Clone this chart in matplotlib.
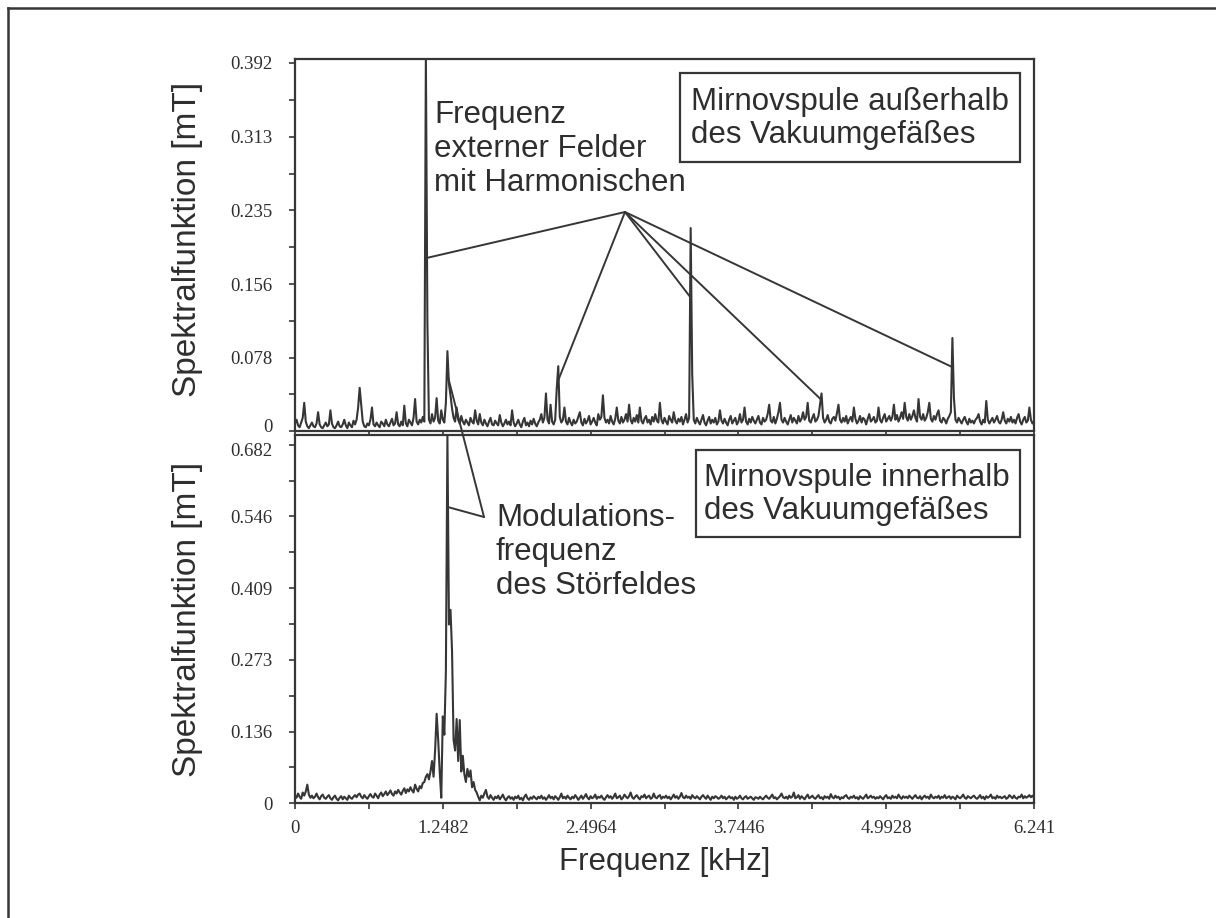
import numpy as np
import matplotlib
matplotlib.use("Agg")
import matplotlib.pyplot as plt
import matplotlib.transforms as mtransforms
from matplotlib.lines import Line2D
from matplotlib.patches import Rectangle

# ---- data -------------------------------------------------------------
# spectral amplitude in microtesla, 481 equally spaced bins from 0 to 6.241 kHz
f_max_khz = 6.241
n_bins = 481

# Mirnov coil outside the vacuum vessel
outer_uT = [
    8, 12, 6, 4, 9, 14, 30, 10, 5, 3, 6, 9, 5, 4, 8, 20, 7, 4, 3, 6,
    9, 5, 7, 22, 8, 4, 3, 6, 10, 5, 4, 7, 12, 6, 3, 9, 6, 4, 11, 7,
    12, 25, 46, 28, 10, 5, 4, 8, 6, 12, 25, 7, 5, 9, 6, 4, 10, 8, 5, 12,
    7, 5, 9, 13, 6, 8, 20, 7, 5, 10, 6, 27, 8, 5, 12, 9, 6, 14, 34, 10,
    7, 12, 9, 15, 10, 400, 115, 12, 8, 18, 10, 14, 35, 11, 8, 22, 12, 9, 30, 85,
    50, 38, 24, 14, 10, 25, 12, 8, 16, 10, 7, 12, 9, 6, 14, 10, 8, 22, 11, 7,
    18, 9, 6, 12, 8, 5, 10, 14, 7, 6, 11, 8, 6, 17, 9, 5, 8, 12, 7, 10,
    6, 22, 9, 5, 8, 12, 7, 4, 10, 14, 6, 9, 5, 11, 7, 13, 8, 5, 9, 12,
    18, 9, 14, 40, 12, 8, 28, 10, 7, 12, 45, 69, 15, 9, 12, 25, 10, 7, 14, 9,
    6, 12, 8, 10, 15, 20, 9, 6, 13, 8, 11, 16, 7, 10, 14, 9, 6, 18, 12, 15,
    38, 14, 9, 12, 8, 16, 10, 7, 13, 25, 11, 8, 15, 9, 12, 18, 10, 28, 12, 8,
    14, 10, 17, 9, 25, 11, 8, 13, 16, 9, 12, 7, 15, 10, 18, 11, 9, 30, 12, 8,
    14, 10, 7, 16, 12, 9, 20, 11, 8, 13, 10, 15, 7, 12, 18, 9, 14, 216, 60, 12,
    8, 14, 10, 7, 12, 17, 9, 6, 11, 15, 8, 12, 9, 14, 7, 10, 22, 11, 8, 13,
    9, 6, 12, 16, 8, 11, 14, 7, 10, 18, 9, 12, 25, 10, 7, 13, 9, 15, 11, 8,
    12, 16, 9, 7, 14, 10, 12, 18, 28, 11, 9, 15, 8, 13, 20, 30, 12, 9, 14, 10,
    7, 12, 17, 9, 14, 11, 8, 16, 10, 13, 20, 12, 15, 30, 11, 9, 14, 18, 10, 12,
    16, 28, 40, 14, 9, 12, 17, 10, 8, 13, 15, 11, 19, 28, 12, 9, 14, 10, 16, 8,
    12, 15, 10, 25, 13, 8, 11, 16, 9, 14, 12, 7, 13, 18, 10, 12, 15, 9, 11, 25,
    12, 9, 14, 18, 10, 13, 16, 11, 15, 28, 12, 17, 10, 14, 20, 13, 30, 15, 11, 18,
    12, 16, 22, 14, 10, 34, 15, 12, 18, 11, 14, 20, 30, 13, 10, 16, 12, 18, 22, 11,
    9, 14, 12, 8, 13, 16, 20, 99, 35, 12, 9, 14, 11, 8, 12, 15, 10, 7, 13, 9,
    11, 8, 12, 14, 18, 10, 7, 12, 9, 32, 12, 8, 11, 14, 9, 12, 16, 10, 8, 12,
    20, 11, 8, 13, 10, 15, 9, 12, 8, 14, 18, 10, 7, 12, 15, 9, 11, 25, 12, 8,
    10,
]

# Mirnov coil inside the vacuum vessel
inner_uT = [
    15, 10, 18, 12, 8, 20, 14, 22, 35, 16, 10, 14, 9, 12, 18, 11, 7, 13, 16, 10,
    8, 12, 15, 9, 6, 11, 14, 8, 5, 10, 13, 7, 12, 9, 6, 14, 10, 8, 12, 15,
    11, 16, 18, 12, 9, 15, 11, 8, 13, 17, 12, 10, 18, 14, 9, 16, 20, 13, 17, 22,
    15, 19, 24, 17, 14, 22, 18, 25, 20, 16, 23, 28, 19, 26, 22, 30, 24, 20, 35, 27,
    22, 32, 28, 38, 40, 50, 55, 45, 60, 80, 50, 100, 170, 120, 60, 10, 165, 130, 250, 700,
    340, 368, 290, 120, 100, 160, 80, 158, 60, 90, 55, 40, 65, 50, 62, 30, 40, 25, 20, 12,
    5, 14, 10, 18, 25, 12, 8, 15, 10, 6, 12, 9, 14, 7, 11, 16, 9, 5, 10, 13,
    8, 11, 6, 12, 9, 14, 7, 10, 5, 12, 16, 9, 6, 11, 8, 13, 10, 7, 12, 9,
    14, 8, 11, 6, 10, 15, 9, 12, 7, 13, 10, 6, 11, 18, 9, 12, 8, 14, 10, 7,
    12, 9, 15, 11, 6, 10, 14, 8, 12, 17, 10, 7, 13, 9, 11, 16, 8, 12, 10, 14,
    9, 6, 11, 15, 10, 13, 8, 12, 18, 9, 11, 14, 7, 10, 16, 12, 9, 13, 20, 11,
    8, 12, 15, 10, 7, 13, 11, 16, 9, 12, 14, 8, 10, 18, 11, 9, 13, 15, 8, 12,
    10, 14, 9, 12, 7, 11, 16, 10, 13, 8, 12, 19, 11, 9, 14, 10, 12, 8, 15, 11,
    9, 13, 10, 7, 12, 15, 11, 8, 14, 10, 6, 12, 9, 13, 11, 8, 10, 14, 9, 12,
    7, 10, 13, 9, 11, 6, 12, 8, 10, 14, 9, 7, 11, 13, 8, 10, 12, 9, 6, 11,
    10, 8, 12, 9, 7, 11, 14, 10, 8, 12, 16, 9, 11, 7, 10, 13, 18, 11, 9, 12,
    8, 14, 10, 12, 20, 9, 11, 15, 8, 13, 10, 7, 12, 16, 9, 11, 14, 10, 8, 12,
    15, 9, 11, 7, 13, 10, 12, 8, 17, 11, 9, 14, 10, 12, 7, 11, 9, 13, 15, 10,
    8, 12, 10, 14, 9, 11, 7, 13, 10, 8, 12, 16, 9, 11, 14, 10, 12, 8, 11, 9,
    13, 10, 7, 12, 15, 9, 11, 8, 14, 10, 12, 9, 16, 11, 8, 13, 10, 12, 9, 14,
    11, 8, 12, 15, 10, 9, 13, 7, 11, 14, 10, 12, 8, 16, 11, 9, 12, 10, 14, 8,
    12, 10, 15, 9, 11, 13, 8, 12, 10, 7, 14, 11, 9, 12, 16, 10, 8, 13, 11, 9,
    12, 14, 10, 8, 11, 15, 9, 12, 7, 13, 10, 12, 16, 9, 11, 8, 14, 10, 12, 9,
    11, 13, 8, 10, 15, 12, 9, 14, 10, 8, 12, 11, 16, 9, 13, 10, 12, 15, 11, 14,
    10,
]

# bins of the external-field line and its harmonics, and of the modulation line
harmonic_bins = [85, 171, 257, 342, 427]
modulation_bin = 99

x_ticks = [0, 1.2482, 2.4964, 3.7446, 4.9928, 6.241]
x_ticklabels = ["0", "1.2482", "2.4964", "3.7446", "4.9928", "6.241"]
top_ticks = [0, 0.078, 0.156, 0.235, 0.313, 0.392]
top_ticklabels = ["0", "0.078", "0.156", "0.235", "0.313", "0.392"]
bot_ticks = [0, 0.136, 0.273, 0.409, 0.546, 0.682]
bot_ticklabels = ["0", "0.136", "0.273", "0.409", "0.546", "0.682"]

freq = np.linspace(0, f_max_khz, n_bins)
outer_mT = np.array(outer_uT) / 1000.0
inner_mT = np.array(inner_uT) / 1000.0

# ---- figure -------------------------------------------------------------
W, H = 1216, 918
INK = "#2e2e2e"
LINE = "#363636"
SANS = "Liberation Sans"
SERIF = "Liberation Serif"
TXT = 22.5


def fx(px):
    return px / W


def fy(py):
    return 1 - py / H


fig = plt.figure(figsize=(W / 100, H / 100), dpi=100)
fig.patch.set_facecolor("white")

# page frame (left and top edges)
fig.add_artist(Line2D([fx(8), fx(8)], [fy(8), 0], color=LINE, lw=1.8))
fig.add_artist(Line2D([fx(8), 1], [fy(8), fy(8)], color=LINE, lw=1.8))

ax_left, ax_right = 295, 1034
ax_top = fig.add_axes([fx(ax_left), fy(431), fx(ax_right - ax_left), (431 - 59) / H])
ax_bot = fig.add_axes([fx(ax_left), fy(803), fx(ax_right - ax_left), (803 - 435) / H])


def midpoints(vals):
    return [(a + b) / 2 for a, b in zip(vals[:-1], vals[1:])]


def style_axes(ax, yticks, ylabels, ylim, show_x):
    for s in ax.spines.values():
        s.set_color(LINE)
        s.set_linewidth(1.6)
    ax.set_xlim(0, f_max_khz)
    ax.set_ylim(*ylim)
    ax.set_yticks(yticks)
    ax.set_yticklabels(ylabels, fontfamily=SERIF, fontsize=13.5, color=INK)
    ax.set_yticks(midpoints(yticks), minor=True)
    ax.set_xticks(x_ticks)
    ax.set_xticks(midpoints(x_ticks), minor=True)
    if show_x:
        ax.set_xticklabels(x_ticklabels, fontfamily=SERIF, fontsize=13.5, color=INK)
    else:
        ax.set_xticklabels([])
    ax.tick_params(axis="both", which="both", direction="out", length=4,
                   width=1.2, color=LINE)
    ax.tick_params(axis="y", which="major", pad=12)
    ax.tick_params(axis="x", which="major", pad=8)


ax_top.plot(freq, outer_mT, color=LINE, lw=1.5)
ax_bot.plot(freq, inner_mT, color=LINE, lw=1.5)
style_axes(ax_top, top_ticks, top_ticklabels, (0, 0.396), False)
style_axes(ax_bot, bot_ticks, bot_ticklabels, (0, 0.701), True)

# nudge the two labels that meet at the panel junction apart
ax_top.get_yticklabels()[0].set_transform(
    ax_top.get_yticklabels()[0].get_transform()
    + mtransforms.ScaledTranslation(0, 4 / 72, fig.dpi_scale_trans))
ax_bot.get_yticklabels()[-1].set_transform(
    ax_bot.get_yticklabels()[-1].get_transform()
    + mtransforms.ScaledTranslation(0, -3 / 72, fig.dpi_scale_trans))

# axis titles
for cy in ((59 + 431) / 2 - 6, (435 + 803) / 2):
    fig.text(fx(187), fy(cy), "Spektralfunktion [mT]", rotation=90,
             ha="center", va="center", fontsize=24, fontfamily=SANS, color=INK)
fig.text(fx(665), fy(862), "Frequenz [kHz]", ha="center", va="center",
         fontsize=TXT, fontfamily=SANS, color=INK)

# labelled boxes
for (x0, y0, x1, y1, tx, label) in (
        (680, 73, 1020, 162, 691, "Mirnovspule außerhalb\ndes Vakuumgefäßes"),
        (696, 450, 1020, 537, 704, "Mirnovspule innerhalb\ndes Vakuumgefäßes")):
    fig.add_artist(Rectangle((fx(x0), fy(y1)), fx(x1 - x0), (y1 - y0) / H,
                             transform=fig.transFigure, fill=False,
                             ec=LINE, lw=1.6))
    fig.text(fx(tx), fy((y0 + y1) / 2 + 1), label, ha="left", va="center",
             fontsize=TXT, fontfamily=SANS, color=INK, linespacing=1.15)

# annotations for the external-field line and its harmonics
fig.text(fx(434), fy(100), "Frequenz\nexterner Felder\nmit Harmonischen",
         ha="left", va="top", fontsize=TXT, fontfamily=SANS, color=INK,
         linespacing=1.17)
hub = (625, H - 212)
pointer_heights = [0.184, 0.054, 0.142, 0.033, 0.068]
for b, yv in zip(harmonic_bins, pointer_heights):
    ax_top.annotate("", xy=(freq[b], yv), xycoords="data",
                    xytext=hub, textcoords="figure pixels",
                    arrowprops=dict(arrowstyle="-", color=LINE, lw=1.4,
                                    shrinkA=0, shrinkB=0),
                    annotation_clip=False)

# annotation for the modulation frequency
fig.text(fx(496), fy(503), "Modulations-\nfrequenz\ndes Störfeldes",
         ha="left", va="top", fontsize=TXT, fontfamily=SANS, color=INK,
         linespacing=1.17)
mod_hub = (484, H - 517)
ax_bot.annotate("", xy=(freq[modulation_bin], 0.564), xycoords="data",
                xytext=mod_hub, textcoords="figure pixels",
                arrowprops=dict(arrowstyle="-", color=LINE, lw=1.4,
                                shrinkA=0, shrinkB=0),
                annotation_clip=False)
ax_bot.annotate("", xy=(freq[modulation_bin], 0.060), xycoords=ax_top.transData,
                xytext=mod_hub, textcoords="figure pixels",
                arrowprops=dict(arrowstyle="-", color=LINE, lw=1.4,
                                shrinkA=0, shrinkB=0),
                annotation_clip=False)

fig.savefig("out.png", dpi=100, facecolor="white")
